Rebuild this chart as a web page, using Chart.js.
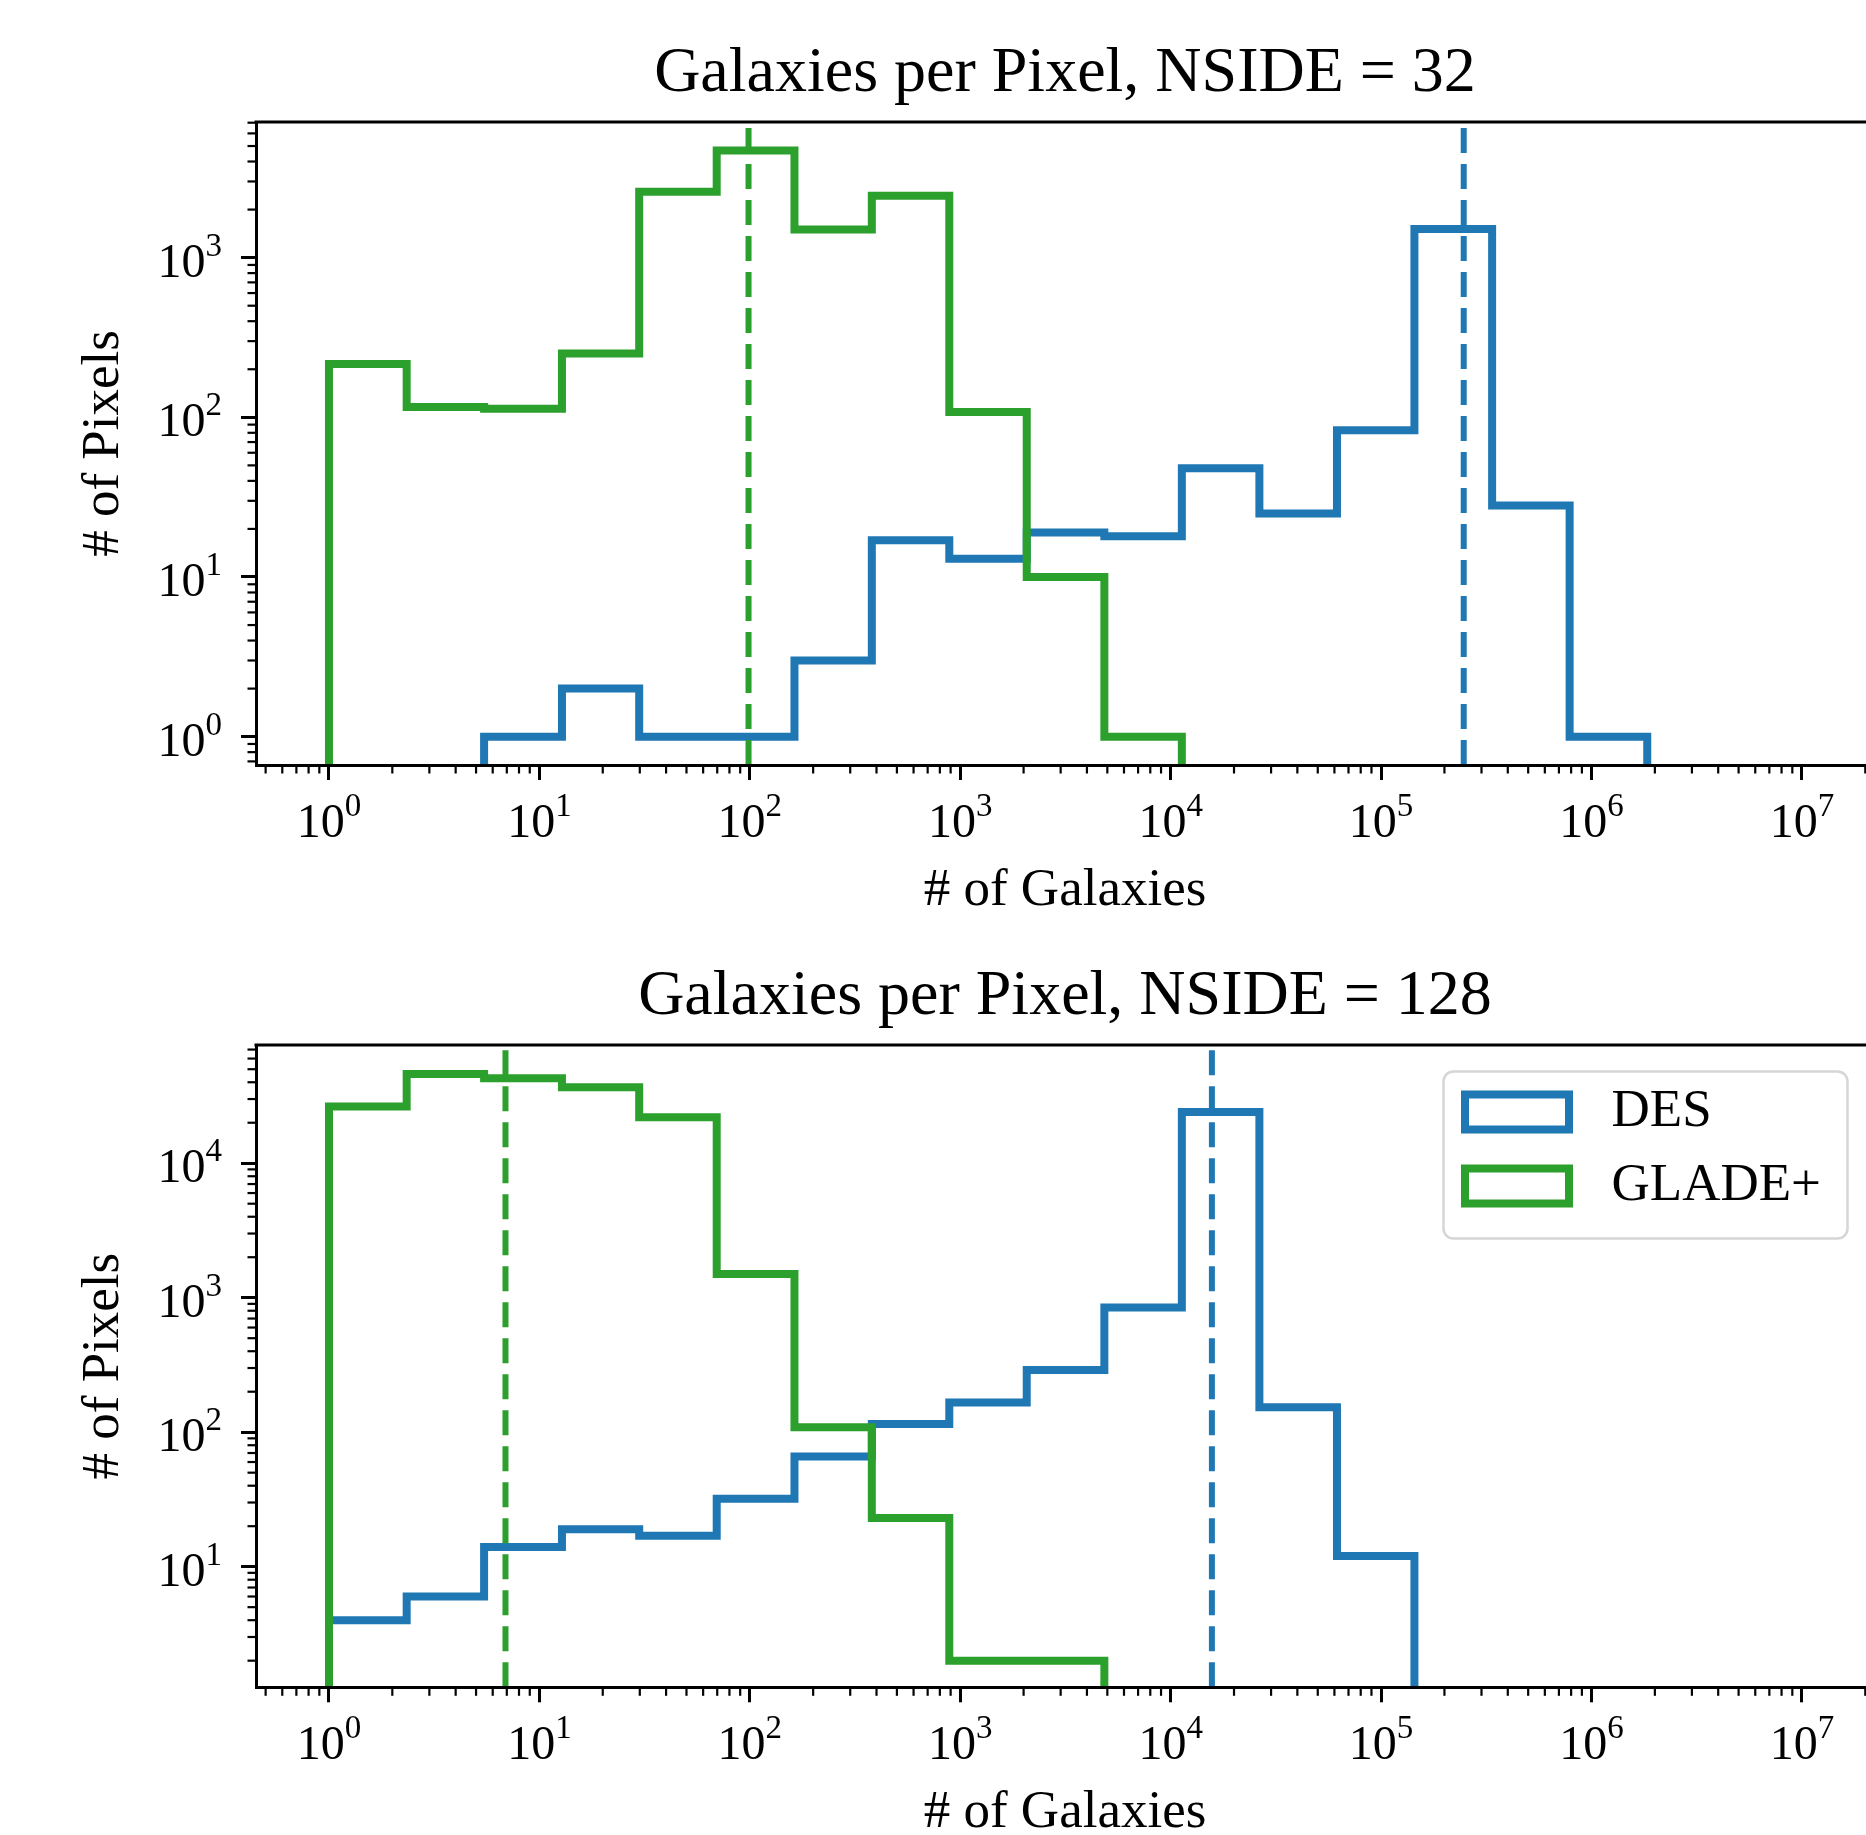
<!DOCTYPE html>
<html>
<head>
<meta charset="utf-8">
<title>Galaxies per Pixel</title>
<script src="https://cdn.jsdelivr.net/npm/chart.js@4.4.0/dist/chart.umd.min.js"></script>
<style>
  html, body { margin: 0; padding: 0; background: #fff; }
  body { width: 1866px; height: 1835px; overflow: hidden; position: relative; }
  canvas { position: absolute; left: 0; }
</style>
</head>
<body>
<canvas id="nside32" width="1880" height="935" style="top:0px"></canvas>
<canvas id="nside128" width="1880" height="900" style="top:935px"></canvas>
<script>
// histogram bin edges (# of galaxies), shared by both panels
const binEdges = [1, 2.34, 5.46, 12.8, 29.8, 69.6, 163, 380, 887, 2070, 4840, 11300,
                  26400, 61700, 144000, 337000, 787000, 1840000];

// counts per bin (# of pixels)
const des32    = [0, 0, 1, 2, 1, 1, 3, 17, 13, 19, 18, 48, 25, 83, 1510, 28, 1];
const glade32  = [216, 116, 113, 251, 2590, 4680, 1500, 2440, 108, 10, 1, 0, 0, 0, 0, 0, 0];
const des128   = [4, 6, 14, 19, 17, 32, 66, 115, 166, 290, 845, 24000, 153, 12, 0, 0, 0];
const glade128 = [26400, 46100, 42800, 36700, 22000, 1500, 109, 23, 2, 2, 0, 0, 0, 0, 0, 0, 0];

// medians (dashed lines): [DES, GLADE+]
const medians32  = [247000, 98.6];
const medians128 = [15700, 6.9];

// tick exponents (10^k)
const xTickExps   = [0, 1, 2, 3, 4, 5, 6, 7];
const yTickExps32  = [0, 1, 2, 3];
const yTickExps128 = [1, 2, 3, 4];

const X_MIN = 0.45, X_MAX = 2.2e7;
const FLOOR = 1e-3; // empty bins drop below the axis, like matplotlib's log step hist

const FONT = '"Liberation Serif", "Times New Roman", serif';
const DES_COLOR = '#1f77b4';
const GLADE_COLOR = '#2ca02c';

function stepPoints(counts) {
  const pts = [{ x: binEdges[0], y: FLOOR }];
  counts.forEach((c, i) => {
    const y = c > 0 ? c : FLOOR;
    pts.push({ x: binEdges[i], y: y }, { x: binEdges[i + 1], y: y });
  });
  pts.push({ x: binEdges[binEdges.length - 1], y: FLOOR });
  return pts;
}

function minorValues(min, max) {
  const out = [];
  for (let k = Math.floor(Math.log10(min)); k <= Math.ceil(Math.log10(max)); k++) {
    for (let m = 2; m <= 9; m++) {
      const v = m * Math.pow(10, k);
      if (v >= min && v <= max) out.push(v);
    }
  }
  return out;
}

function drawPow(ctx, x, base, exp, align) {
  ctx.font = '48px ' + FONT;
  const w1 = ctx.measureText('10').width;
  ctx.font = '33px ' + FONT;
  const w2 = ctx.measureText(String(exp)).width;
  const left = align === 'center' ? x - (w1 + w2) / 2 : x - w1 - w2;
  ctx.textAlign = 'left';
  ctx.textBaseline = 'alphabetic';
  ctx.font = '48px ' + FONT;
  ctx.fillText('10', left, base);
  ctx.font = '33px ' + FONT;
  ctx.fillText(String(exp), left + w1, base - 21);
}

const minorTicks = {
  id: 'minorTicks',
  afterDraw(chart) {
    const { ctx, chartArea: a, scales: { x, y } } = chart;
    ctx.save();
    ctx.strokeStyle = '#000';
    ctx.lineWidth = 2.2;
    minorValues(x.min, x.max).forEach(v => {
      const px = x.getPixelForValue(v);
      ctx.beginPath(); ctx.moveTo(px, a.bottom); ctx.lineTo(px, a.bottom + 8.5); ctx.stroke();
    });
    minorValues(y.min, y.max).forEach(v => {
      const py = y.getPixelForValue(v);
      ctx.beginPath(); ctx.moveTo(a.left, py); ctx.lineTo(a.left - 8.5, py); ctx.stroke();
    });
    ctx.restore();
  }
};

const powLabels = {
  id: 'powLabels',
  afterDraw(chart) {
    const { ctx, chartArea: a, scales: { x, y } } = chart;
    ctx.save();
    ctx.fillStyle = '#000';
    x.ticks.forEach(t => {
      drawPow(ctx, x.getPixelForValue(t.value), a.bottom + 72, Math.round(Math.log10(t.value)), 'center');
    });
    y.ticks.forEach(t => {
      drawPow(ctx, a.left - 34, y.getPixelForValue(t.value) + 19, Math.round(Math.log10(t.value)), 'right');
    });
    ctx.restore();
  }
};

const frame = {
  id: 'frame',
  afterDraw(chart) {
    const { ctx, chartArea: a } = chart;
    ctx.save();
    ctx.strokeStyle = '#000';
    ctx.lineWidth = 3;
    ctx.beginPath();
    ctx.moveTo(a.left - 1.5, a.top);
    ctx.lineTo(a.right, a.top);
    ctx.lineTo(a.right, a.bottom);
    ctx.stroke();
    ctx.restore();
  }
};

const medianLines = {
  id: 'medianLines',
  afterDatasetsDraw(chart, args, opts) {
    const { ctx, chartArea: a, scales: { x } } = chart;
    ctx.save();
    ctx.beginPath();
    ctx.rect(a.left, a.top, a.right - a.left, a.bottom - a.top);
    ctx.clip();
    ctx.lineWidth = 6;
    ctx.setLineDash([25, 11]);
    opts.values.forEach((v, i) => {
      const px = x.getPixelForValue(v);
      ctx.strokeStyle = opts.colors[i];
      ctx.beginPath(); ctx.moveTo(px, a.bottom); ctx.lineTo(px, a.top); ctx.stroke();
    });
    ctx.restore();
  }
};

// matplotlib-like legend box (upper right)
const legendBox = {
  id: 'legendBox',
  afterDraw(chart) {
    const { ctx, chartArea: a } = chart;
    const items = chart.data.datasets.filter(d => d.label);
    const w = 404, h = 167, r = 10;
    const left = a.right - 26.5 - w, top = a.top + 26.5;
    ctx.save();
    ctx.beginPath();
    ctx.moveTo(left + r, top);
    ctx.arcTo(left + w, top, left + w, top + h, r);
    ctx.arcTo(left + w, top + h, left, top + h, r);
    ctx.arcTo(left, top + h, left, top, r);
    ctx.arcTo(left, top, left + w, top, r);
    ctx.closePath();
    ctx.fillStyle = 'rgba(255,255,255,0.8)';
    ctx.fill();
    ctx.strokeStyle = '#d6d6d6';
    ctx.lineWidth = 2.5;
    ctx.stroke();
    items.forEach((d, i) => {
      const cy = top + 40.5 + i * 74;
      ctx.strokeStyle = d.borderColor;
      ctx.lineWidth = 8;
      ctx.lineJoin = 'miter';
      ctx.strokeRect(left + 21.5, cy - 17.5, 104, 35);
      ctx.fillStyle = '#000';
      ctx.font = '53px ' + FONT;
      ctx.textAlign = 'left';
      ctx.textBaseline = 'middle';
      ctx.fillText(d.label, left + 168, cy);
    });
    ctx.restore();
  }
};

function buildChart(id, title, desCounts, gladeCounts, medians, yMin, yMax, yExps, lay, extra) {
  const lineStyle = { borderWidth: 8, pointRadius: 0, fill: false, tension: 0,
                      borderJoinStyle: 'miter', borderCapStyle: 'butt', clip: 0 };
  return new Chart(document.getElementById(id), {
    type: 'line',
    data: {
      datasets: [
        Object.assign({ label: 'DES', data: stepPoints(desCounts), borderColor: DES_COLOR, order: 1 }, lineStyle),
        Object.assign({ label: 'GLADE+', data: stepPoints(gladeCounts), borderColor: GLADE_COLOR, order: 0 }, lineStyle)
      ]
    },
    options: {
      responsive: false,
      animation: false,
      devicePixelRatio: 1,
      events: [],
      layout: { padding: { left: 0, right: 6, top: 0, bottom: 0 } },
      plugins: {
        legend: { display: false },
        tooltip: { enabled: false },
        title: {
          display: true, text: title, color: '#000', fullSize: false,
          font: { family: FONT, size: 64, weight: 'normal', lineHeight: 1.2 },
          padding: { top: lay.titleTop, bottom: lay.titleBottom }
        },
        medianLines: { values: medians, colors: [DES_COLOR, GLADE_COLOR] }
      },
      scales: {
        x: {
          type: 'logarithmic', position: 'bottom', min: X_MIN, max: X_MAX, bounds: 'data',
          afterBuildTicks: s => { s.ticks = xTickExps.map(e => ({ value: Math.pow(10, e) })); },
          afterFit: s => { s.height = lay.xAxisHeight; },
          grid: { display: true, drawOnChartArea: false, drawTicks: true, tickLength: 15, tickWidth: 3, tickColor: '#000' },
          border: { display: true, color: '#000', width: 3, z: 1 },
          ticks: { display: false },
          title: {
            display: true, text: '# of Galaxies', color: '#000',
            font: { family: FONT, size: 53, lineHeight: 0.8 },
            padding: { top: 0, bottom: lay.xTitleBottom }
          }
        },
        y: {
          type: 'logarithmic', position: 'left', min: yMin, max: yMax, bounds: 'data',
          afterBuildTicks: s => { s.ticks = yExps.map(e => ({ value: Math.pow(10, e) })); },
          afterFit: s => { s.width = 256; },
          grid: { display: true, drawOnChartArea: false, drawTicks: true, tickLength: 15, tickWidth: 3, tickColor: '#000' },
          border: { display: true, color: '#000', width: 3, z: 1 },
          ticks: { display: false },
          title: {
            display: true, text: '# of Pixels', color: '#000',
            font: { family: FONT, size: 53, lineHeight: 1 },
            padding: { top: 77.5, bottom: 0 }
          }
        }
      }
    },
    plugins: [medianLines, minorTicks, powLabels, frame].concat(extra || [])
  });
}

buildChart('nside32', 'Galaxies per Pixel, NSIDE = 32', des32, glade32, medians32,
  0.6646, 7071, yTickExps32,
  { titleTop: 35.6, titleBottom: 9.6, xAxisHeight: 170, xTitleBottom: 22.8 });

buildChart('nside128', 'Galaxies per Pixel, NSIDE = 128', des128, glade128, medians128,
  1.268, 75680, yTickExps128,
  { titleTop: 23.6, titleBottom: 9.6, xAxisHeight: 147.7, xTitleBottom: 0.8 },
  [legendBox]);
</script>
</body>
</html>
